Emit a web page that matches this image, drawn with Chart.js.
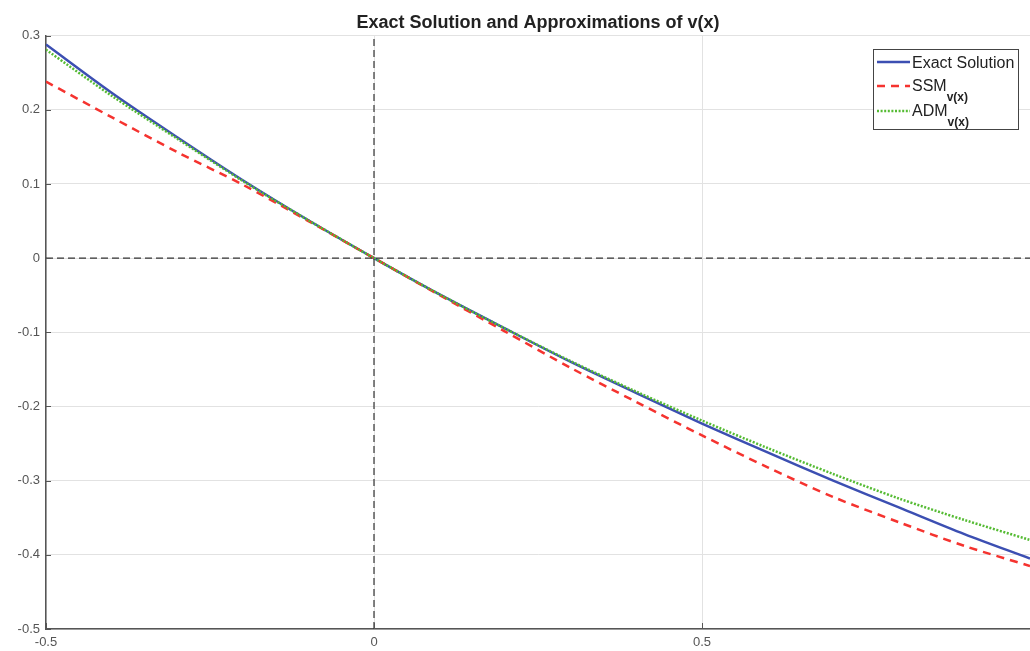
<!DOCTYPE html>
<html>
<head>
<meta charset="utf-8">
<script src="https://cdn.jsdelivr.net/npm/chart.js@4.4.1/dist/chart.umd.min.js"></script>
<style>
  html, body { margin: 0; padding: 0; background: #fff; overflow: hidden; }
  canvas { display: block; }
</style>
</head>
<body>
<canvas id="chart" width="1036" height="651"></canvas>
<script>
const xValues = [-0.5, -0.4, -0.3, -0.2, -0.1, 0, 0.1, 0.2, 0.3, 0.4, 0.5, 0.6, 0.7, 0.8, 0.9, 1.0];
const exactValues = [0.288, 0.223, 0.163, 0.105, 0.051, 0, -0.049, -0.095, -0.140, -0.182, -0.223, -0.262, -0.300, -0.336, -0.372, -0.405];
const ssmValues = [0.238, 0.190, 0.143, 0.099, 0.050, 0, -0.050, -0.099, -0.148, -0.194, -0.239, -0.282, -0.322, -0.356, -0.388, -0.415];
const admValues = [0.281, 0.219, 0.161, 0.104, 0.051, 0, -0.049, -0.095, -0.139, -0.180, -0.219, -0.256, -0.291, -0.324, -0.353, -0.380];

const xTicks = [-0.5, 0, 0.5, 1];
const yTicks = [-0.5, -0.4, -0.3, -0.2, -0.1, 0, 0.1, 0.2, 0.3];

const toPoints = (ys) => xValues.map((x, i) => ({ x: x, y: ys[i] }));

// dashed reference lines through the origin
const xZeroLine = [{ x: 0, y: -0.5 }, { x: 0, y: 0.3 }];
const yZeroLine = [{ x: -0.5, y: 0 }, { x: 1, y: 0 }];

const FONT = "'Liberation Sans', Arial, sans-serif";

const legendBox = {
  id: "legendBox",
  afterDraw(chart) {
    const ctx = chart.ctx;
    const items = chart.data.datasets.filter((d) => d.inLegend);
    const x0 = 873, y0 = 49, w = 145, h = 80;
    ctx.save();
    ctx.fillStyle = "#fff";
    ctx.fillRect(x0, y0, w, h);
    ctx.strokeStyle = "#444";
    ctx.lineWidth = 1;
    ctx.strokeRect(x0 + 0.5, y0 + 0.5, w, h);
    const rows = [62, 86, 111];
    items.forEach((d, i) => {
      const y = rows[i];
      ctx.beginPath();
      ctx.strokeStyle = d.borderColor;
      ctx.lineWidth = d.borderWidth;
      ctx.setLineDash(d.borderDash || []);
      ctx.moveTo(877, y);
      ctx.lineTo(910, y);
      ctx.stroke();
      ctx.setLineDash([]);
      ctx.fillStyle = "#222";
      ctx.textBaseline = "middle";
      ctx.textAlign = "left";
      ctx.font = "16px " + FONT;
      const ty = d.sub ? y + 0.5 : y + 1.5;
      ctx.fillText(d.label, 912, ty);
      if (d.sub) {
        const tw = ctx.measureText(d.label).width;
        ctx.font = "bold 12px " + FONT;
        ctx.fillText(d.sub, 912 + tw, y + 11.5);
      }
    });
    ctx.restore();
  },
};

const innerTicks = {
  id: "innerTicks",
  afterDraw(chart) {
    const { ctx, chartArea, scales } = chart;
    ctx.save();
    ctx.strokeStyle = "#555";
    ctx.lineWidth = 1;
    ctx.beginPath();
    yTicks.forEach((v) => {
      const py = Math.round(scales.y.getPixelForValue(v)) + 0.5;
      ctx.moveTo(chartArea.left, py);
      ctx.lineTo(chartArea.left + 5, py);
    });
    xTicks.forEach((v) => {
      const px = Math.round(scales.x.getPixelForValue(v)) + 0.5;
      ctx.moveTo(px, chartArea.bottom);
      ctx.lineTo(px, chartArea.bottom - 6);
    });
    ctx.stroke();
    ctx.restore();
  },
};

const whiteBg = {
  id: "whiteBg",
  beforeDraw(chart) {
    const ctx = chart.ctx;
    ctx.save();
    ctx.fillStyle = "#fff";
    ctx.fillRect(0, 0, chart.width, chart.height);
    ctx.restore();
  },
};

new Chart(document.getElementById("chart"), {
  type: "line",
  data: {
    datasets: [
      {
        label: "Exact Solution",
        inLegend: true,
        data: toPoints(exactValues),
        borderColor: "#3c4fb2",
        borderWidth: 2.5,
        pointRadius: 0,
        tension: 0.3,
        order: 3,
      },
      {
        label: "SSM",
        sub: "v(x)",
        inLegend: true,
        data: toPoints(ssmValues),
        borderColor: "#f5332f",
        borderWidth: 2.5,
        borderDash: [8, 6],
        pointRadius: 0,
        tension: 0.3,
        order: 2,
      },
      {
        label: "ADM",
        sub: "v(x)",
        inLegend: true,
        data: toPoints(admValues),
        borderColor: "#55bb33",
        borderWidth: 2.5,
        borderDash: [2, 1.6],
        pointRadius: 0,
        tension: 0.3,
        order: 1,
      },
      {
        label: "x = 0",
        data: xZeroLine,
        borderColor: "#333",
        borderWidth: 1.2,
        borderDash: [7, 4],
        pointRadius: 0,
        order: 0,
      },
      {
        label: "y = 0",
        data: yZeroLine,
        borderColor: "#333",
        borderWidth: 1.2,
        borderDash: [7, 4],
        pointRadius: 0,
        order: 0,
      },
    ],
  },
  options: {
    responsive: false,
    animation: false,
    layout: { padding: { left: 0, right: 3, top: 0, bottom: 0 } },
    plugins: {
      legend: { display: false },
      tooltip: { enabled: false },
      title: {
        display: true,
        text: "Exact Solution and Approximations of v(x)",
        fullSize: false,
        color: "#222",
        font: { family: FONT, size: 18, weight: "bold" },
        padding: { top: 12, bottom: 2 },
      },
    },
    scales: {
      x: {
        type: "linear",
        min: -0.5,
        max: 1,
        afterBuildTicks: (scale) => {
          scale.ticks = xTicks.map((v) => ({ value: v }));
        },
        afterFit: (scale) => {
          scale.height = 22;
        },
        ticks: {
          color: "#555",
          font: { family: FONT, size: 13 },
          padding: 6,
          maxRotation: 0,
          // the label at 1 falls outside the photographed window
          callback: (v) => (v === 1 ? "" : String(v)),
        },
        grid: { color: "#e2e2e2", lineWidth: 1, drawTicks: false },
        border: { display: true, color: "#555", width: 1.5 },
      },
      y: {
        type: "linear",
        min: -0.5,
        max: 0.3,
        afterBuildTicks: (scale) => {
          scale.ticks = yTicks.map((v) => ({ value: v }));
        },
        afterFit: (scale) => {
          scale.width = 46;
        },
        ticks: {
          color: "#555",
          font: { family: FONT, size: 13 },
          padding: 6,
          callback: (v) => String(v),
        },
        grid: { color: "#e2e2e2", lineWidth: 1, drawTicks: false },
        border: { display: true, color: "#555", width: 1.5 },
      },
    },
  },
  plugins: [whiteBg, innerTicks, legendBox],
});
</script>
</body>
</html>
